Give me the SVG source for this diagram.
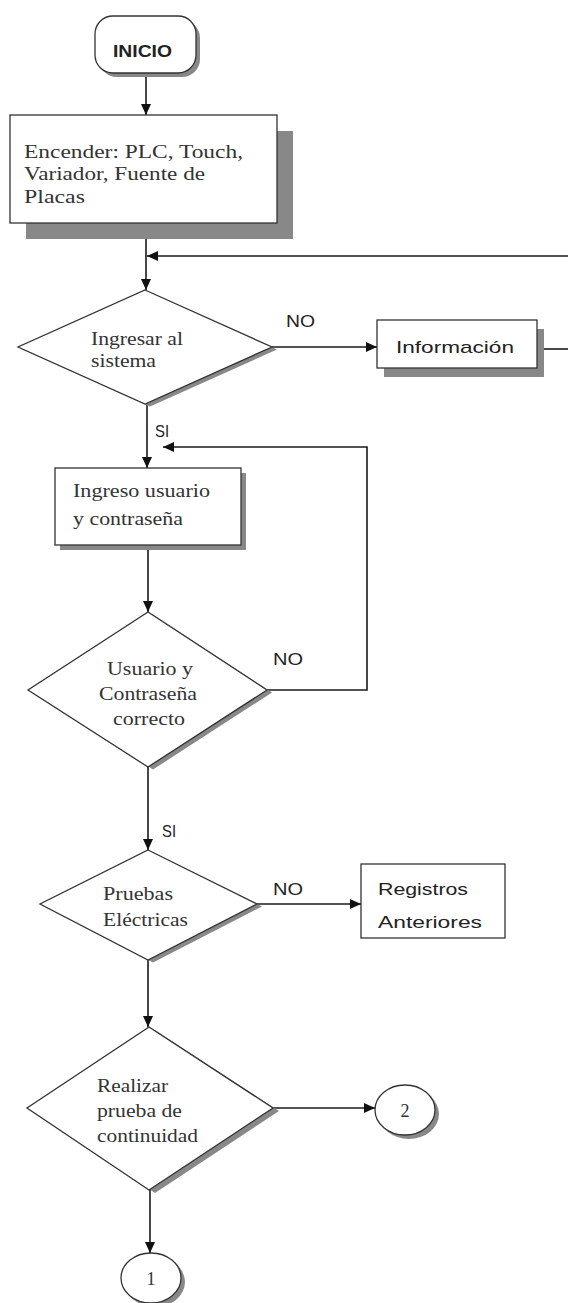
<svg xmlns="http://www.w3.org/2000/svg" width="568" height="1303" viewBox="0 0 568 1303">
<defs>
<marker id="arr" markerUnits="userSpaceOnUse" markerWidth="12" markerHeight="10" refX="11" refY="5" orient="auto">
<path d="M0,0 L11,5 L0,10 Z" fill="#111"/>
</marker>
</defs>
<style>
.box{fill:#fff;stroke:#333;stroke-width:1.3}
.sh{fill:#888;stroke:none}
.con{fill:none;stroke:#1a1a1a;stroke-width:1.6}
.serif{font-family:"Liberation Serif","Times New Roman",serif;font-size:18px;fill:#333}
.sans{font-family:"Liberation Sans",Arial,sans-serif;font-size:17px;fill:#222}
</style>
<rect width="568" height="1303" fill="#fff"/>

<g id="connectors">
<line class="con" x1="146" y1="73" x2="146" y2="115" marker-end="url(#arr)"/>
<line class="con" x1="146" y1="223" x2="146" y2="290" marker-end="url(#arr)"/>
<line class="con" x1="568" y1="256" x2="147" y2="256" marker-end="url(#arr)"/>
<line class="con" x1="272" y1="347" x2="377" y2="347" marker-end="url(#arr)"/>
<line class="con" x1="537" y1="349" x2="568" y2="349"/>
<line class="con" x1="147" y1="404" x2="147" y2="468" marker-end="url(#arr)"/>
<polyline class="con" points="267,690 367,690 367,447 163,447" marker-end="url(#arr)"/>
<line class="con" x1="148" y1="545" x2="148" y2="612" marker-end="url(#arr)"/>
<line class="con" x1="148" y1="767" x2="148" y2="850" marker-end="url(#arr)"/>
<line class="con" x1="257" y1="904" x2="361" y2="904" marker-end="url(#arr)"/>
<line class="con" x1="148" y1="960" x2="148" y2="1027" marker-end="url(#arr)"/>
<line class="con" x1="273" y1="1108" x2="375" y2="1108" marker-end="url(#arr)"/>
<line class="con" x1="150" y1="1190" x2="150" y2="1253" marker-end="url(#arr)"/>
<text class="sans" x="286" y="327" textLength="29" lengthAdjust="spacingAndGlyphs">NO</text>
<text class="sans" x="155" y="437" textLength="14" lengthAdjust="spacingAndGlyphs">SI</text>
<text class="sans" x="273" y="665" textLength="30" lengthAdjust="spacingAndGlyphs">NO</text>
<text class="sans" x="162" y="837" textLength="14" lengthAdjust="spacingAndGlyphs">SI</text>
<text class="sans" x="273" y="895" textLength="30" lengthAdjust="spacingAndGlyphs">NO</text>
</g>

<g id="inicio">
<rect class="sh" x="99" y="20" width="101" height="57" rx="18"/>
<rect class="box" x="95" y="16" width="101" height="57" rx="18"/>
<text class="sans" x="113" y="57" font-weight="bold" font-size="18" textLength="59" lengthAdjust="spacingAndGlyphs">INICIO</text>
</g>

<g id="encender">
<rect class="sh" x="26" y="131" width="267" height="108"/>
<rect class="box" x="10" y="115" width="267" height="108"/>
<text class="serif" x="24" y="158" textLength="219" lengthAdjust="spacingAndGlyphs">Encender: PLC, Touch,</text>
<text class="serif" x="24" y="180" textLength="181" lengthAdjust="spacingAndGlyphs">Variador, Fuente de</text>
<text class="serif" x="24" y="203" textLength="61" lengthAdjust="spacingAndGlyphs">Placas</text>
</g>

<g id="ingresar">
<polygon class="sh" points="150,292.5 277,349.5 150,406.5 23,349.5"/>
<polygon class="box" points="145,290 272,347 145,404 18,347"/>
<text class="serif" x="91" y="345" textLength="92" lengthAdjust="spacingAndGlyphs">Ingresar al</text>
<text class="serif" x="91" y="367" textLength="65" lengthAdjust="spacingAndGlyphs">sistema</text>
</g>

<g id="informacion">
<rect class="sh" x="384" y="329" width="160" height="48"/>
<rect class="box" x="377" y="320" width="160" height="48"/>
<text class="sans" x="396" y="353" font-size="18" textLength="118" lengthAdjust="spacingAndGlyphs">Información</text>
</g>

<g id="ingreso">
<rect class="sh" x="60" y="473" width="186" height="77"/>
<rect class="box" x="55" y="468" width="186" height="77"/>
<text class="serif" x="73" y="497" textLength="137" lengthAdjust="spacingAndGlyphs">Ingreso usuario</text>
<text class="serif" x="73" y="525" textLength="110" lengthAdjust="spacingAndGlyphs">y contraseña</text>
</g>

<g id="usuario-correcto">
<polygon class="sh" points="153,614.5 272,692.5 153,769.5 33,692.5"/>
<polygon class="box" points="148,612 267,690 148,767 28,690"/>
<text class="serif" x="107" y="675" textLength="86" lengthAdjust="spacingAndGlyphs">Usuario y</text>
<text class="serif" x="99" y="700" textLength="98" lengthAdjust="spacingAndGlyphs">Contraseña</text>
<text class="serif" x="113" y="725" textLength="72" lengthAdjust="spacingAndGlyphs">correcto</text>
</g>

<g id="pruebas">
<polygon class="sh" points="153,852.5 262,906.5 153,962.5 45,906.5"/>
<polygon class="box" points="148,850 257,904 148,960 40,904"/>
<text class="serif" x="103" y="900" textLength="70" lengthAdjust="spacingAndGlyphs">Pruebas</text>
<text class="serif" x="103" y="926" textLength="85" lengthAdjust="spacingAndGlyphs">Eléctricas</text>
</g>

<g id="registros">
<rect class="box" x="361" y="864" width="144" height="74"/>
<text class="sans" x="378" y="895" font-size="19" textLength="90" lengthAdjust="spacingAndGlyphs">Registros</text>
<text class="sans" x="378" y="928" font-size="19" textLength="104" lengthAdjust="spacingAndGlyphs">Anteriores</text>
</g>

<g id="continuidad">
<polygon class="sh" points="155,1030 279,1111 155,1193 33,1111"/>
<polygon class="box" points="149,1027 273,1108 149,1190 27,1108"/>
<text class="serif" x="97" y="1092" textLength="71" lengthAdjust="spacingAndGlyphs">Realizar</text>
<text class="serif" x="97" y="1117" textLength="85" lengthAdjust="spacingAndGlyphs">prueba de</text>
<text class="serif" x="97" y="1142" textLength="101" lengthAdjust="spacingAndGlyphs">continuidad</text>
</g>

<g id="conector-2">
<ellipse class="sh" cx="409" cy="1114" rx="30" ry="25"/>
<ellipse class="box" cx="405" cy="1110" rx="30" ry="25"/>
<text class="serif" x="405" y="1117" text-anchor="middle">2</text>
</g>

<g id="conector-1">
<ellipse class="sh" cx="155" cy="1282" rx="30" ry="25"/>
<ellipse class="box" cx="151" cy="1278" rx="30" ry="25"/>
<text class="serif" x="151" y="1285" text-anchor="middle">1</text>
</g>
</svg>
